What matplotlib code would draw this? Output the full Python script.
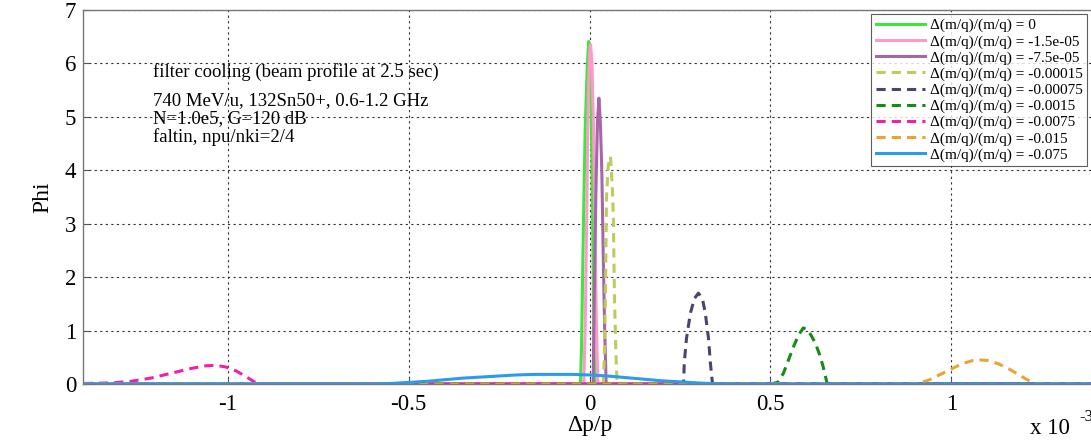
import matplotlib
matplotlib.use("Agg")
import matplotlib.pyplot as plt

plt.rcParams['font.family'] = ['Liberation Serif', 'DejaVu Serif']

# Momentum deviation in units of 1e-3, profile value Phi
x_lim = [-1.4, 1.4]

dp_0 = [-1.4, -0.025, -0.022, -0.017, -0.012, -0.006, -0.002, 0.002, 0.006, 0.009, 0.012, 0.015, 1.4]
phi_0 = [0, 0, 0.7, 2.9, 4.75, 6.0, 6.41, 6.1, 4.5, 2.8, 1.0, 0, 0]

dp_1 = [-1.4, -0.016, -0.012, -0.008, -0.004, 0.0, 0.003, 0.007, 0.011, 0.015, 0.019, 0.023, 1.4]
phi_1 = [0, 0, 1.0, 3.0, 5.2, 6.2, 6.35, 6.0, 4.8, 3.0, 1.2, 0, 0]

dp_2 = [-1.4, 0.010, 0.012, 0.015, 0.018, 0.022, 0.026, 0.030, 0.034, 0.038, 0.042, 0.046, 1.4]
phi_2 = [0, 0, 1.0, 2.5, 3.7, 4.9, 5.35, 4.9, 4.0, 2.4, 1.0, 0, 0]

dp_3 = [-1.4, 0.038, 0.041, 0.044, 0.047, 0.052, 0.058, 0.063, 0.066, 0.069, 0.073, 0.076, 1.4]
phi_3 = [0, 0, 0.5, 1.6, 3.5, 4.1, 4.26, 3.7, 3.1, 1.6, 0.6, 0, 0]

dp_4 = [-1.4, 0.260, 0.262, 0.268, 0.279, 0.290, 0.301, 0.312, 0.320, 0.329, 0.334, 0.340, 1.4]
phi_4 = [0, 0, 0.4, 0.85, 1.33, 1.6, 1.70, 1.6, 1.33, 0.85, 0.4, 0, 0]

dp_5 = [-1.4, 0.50, 0.52, 0.536, 0.55, 0.564, 0.578, 0.591, 0.605, 0.624, 0.636, 0.646, 0.652, 0.657, 1.4]
phi_5 = [0, 0, 0.03, 0.2, 0.45, 0.7, 0.92, 1.05, 1.0, 0.77, 0.55, 0.32, 0.15, 0, 0]

dp_6 = [-1.398, -1.323, -1.268, -1.213, -1.157, -1.102, -1.061, -1.033, -1.006, -0.978, -0.950, -0.931, -0.917, 1.4]
phi_6 = [0.01, 0.02, 0.05, 0.11, 0.2, 0.29, 0.34, 0.35, 0.32, 0.25, 0.14, 0.06, 0, 0]

dp_7 = [-1.4, 0.905, 0.94, 0.97, 1.0, 1.03, 1.06, 1.08, 1.10, 1.13, 1.16, 1.19, 1.21, 1.235, 1.4]
phi_7 = [0, 0, 0.08, 0.18, 0.28, 0.38, 0.44, 0.45, 0.44, 0.38, 0.28, 0.16, 0.08, 0, 0]

dp_8 = [-1.4, -0.6, -0.55, -0.5, -0.45, -0.4, -0.35, -0.3, -0.25, -0.2, -0.15, -0.1,
        -0.05, 0.0, 0.05, 0.1, 0.15, 0.2, 0.25, 0.3, 0.35, 0.4, 1.4]
phi_8 = [0, 0, 0.01, 0.03, 0.05, 0.08, 0.11, 0.13, 0.15, 0.17, 0.18, 0.18,
         0.18, 0.17, 0.15, 0.12, 0.09, 0.06, 0.04, 0.02, 0.005, 0, 0]

labels = ["0", "-1.5e-05", "-7.5e-05", "-0.00015", "-0.00075", "-0.0015", "-0.0075", "-0.015", "-0.075"]
colors = ["#3de83d", "#ff99cc", "#a865a8", "#bccc5a", "#46466f", "#178a17", "#f020a8", "#e8a535", "#2a9cec"]
dashed = [False, False, False, True, True, True, True, True, False]

series = [(dp_0, phi_0), (dp_1, phi_1), (dp_2, phi_2), (dp_3, phi_3), (dp_4, phi_4),
          (dp_5, phi_5), (dp_6, phi_6), (dp_7, phi_7), (dp_8, phi_8)]

fig = plt.figure(figsize=(10.91, 4.43), dpi=100)
ax = fig.add_axes([83 / 1091, 59 / 443, 1013 / 1091, 374 / 443])

for (xs, ys), lab, col, dsh in zip(series, labels, colors, dashed):
    ls = (0, (3, 2)) if dsh else '-'
    ax.plot(xs, ys, color=col, lw=2.2, ls=ls, label="\u0394(m/q)/(m/q) = " + lab)

ax.set_xlim(x_lim)
ax.set_ylim(0, 7)
ax.set_xticks([-1, -0.5, 0, 0.5, 1])
ax.set_xticklabels(["-1", "-0.5", "0", "0.5", "1"])
ax.set_yticks(range(8))
ax.tick_params(direction='in', length=4, labelsize=16.5, color='#555555')
ax.tick_params(axis='x', pad=7)
ax.tick_params(axis='y', pad=5)
ax.grid(True, ls=(0, (2, 3)), color='#333333', lw=0.8)
for sp in ax.spines.values():
    sp.set_color('#777777')
    sp.set_linewidth(1.0)

ax.set_xlabel("\u0394p/p", fontsize=17, labelpad=0)
ax.set_ylabel("Phi", fontsize=17, labelpad=8)

info_kw = dict(transform=ax.transAxes, fontsize=13.5, va='center')
ax.text(0.069, 0.835, "filter cooling (beam profile at 2.5 sec)", **info_kw)
ax.text(0.069, 0.757, "740 MeV/u, 132Sn50+, 0.6-1.2 GHz", **info_kw)
ax.text(0.069, 0.709, "N=1.0e5, G=120 dB", **info_kw)
ax.text(0.069, 0.661, "faltin, npu/nki=2/4", **info_kw)

fig.text(1030 / 1091, 1 - 434 / 443, "x 10", fontsize=16.5, va='baseline')
fig.text(1079 / 1091, 1 - 421 / 443, "-3", fontsize=12, va='baseline')

leg = ax.legend(loc='upper right', bbox_to_anchor=(1087 / 1091, 1 - 14 / 443), bbox_transform=fig.transFigure,
                fontsize=11, frameon=True, fancybox=False, edgecolor='#333333',
                handlelength=3.2, handletextpad=0.3, labelspacing=0.15, borderpad=0.3, borderaxespad=0)
leg.get_frame().set_linewidth(0.8)

fig.savefig("out.png", dpi=100)
